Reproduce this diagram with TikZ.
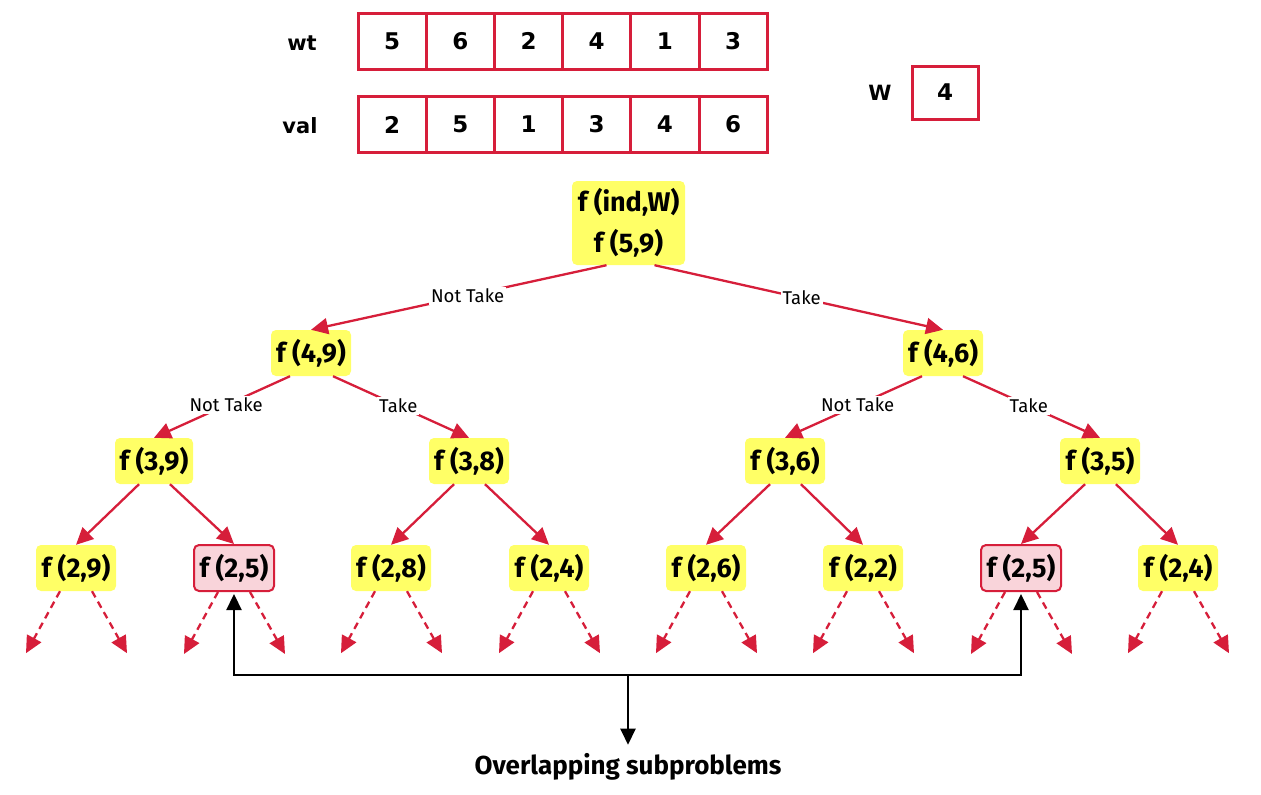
\documentclass[tikz,border=0pt]{standalone}
\usepackage{fontspec}
\setmainfont{Fira Sans}
\newfontfamily\dvs{DejaVu Sans}
\usetikzlibrary{arrows.meta,calc}
\definecolor{cred}{RGB}{214,30,58}
\definecolor{cyel}{RGB}{255,255,102}
\definecolor{cpink}{RGB}{249,212,218}
\tikzset{
  cell/.style={draw=cred,line width=3pt,minimum width=68.2pt,minimum height=56pt,inner sep=0pt,font=\dvs\bfseries\fontsize{23}{26}\selectfont},
  arrlbl/.style={font=\dvs\bfseries\fontsize{21}{24}\selectfont,inner sep=0pt},
  fnode/.style={fill=cyel,rounded corners=5pt,minimum width=80pt,minimum height=46pt,inner sep=0pt,font=\bfseries\fontsize{27}{30}\selectfont},
  dupnode/.style={fnode,fill=cpink,draw=cred,line width=2pt},
  edge/.style={draw=cred,line width=2.3pt,-{Triangle[length=17pt,width=16pt]}},
  dedge/.style={edge,dash pattern=on 7pt off 5pt},
  lbl/.style={fill=white,inner sep=2pt,font=\fontsize{18.5}{22}\selectfont},
  blk/.style={draw=black,line width=2.3pt},
  btip/.style={-{Triangle[length=16pt,width=15pt]}}
}
\begin{document}
\begin{tikzpicture}[x=1pt,y=-1pt]
\useasboundingbox (0,0) rectangle (1261,795);
% arrays
\node[arrlbl] (wtl) at (302,43) {wt};
\node[arrlbl] (vall) at (300,126) {val};
\foreach \v [count=\i] in {5,6,2,4,1,3}
  \node[cell] (wt\i) at ({358+68.2*(\i-0.5)},41) {\v};
\foreach \v [count=\i] in {2,5,1,3,4,6}
  \node[cell] (val\i) at ({358+68.2*(\i-0.5)},124.5) {\v};
\node[arrlbl] (Wl) at (880,93) {W};
\node[cell,minimum width=66pt,minimum height=53pt] (Wb) at (945,92.5) {4};
% tree
\node[fnode,minimum width=113pt,minimum height=84pt,align=center,font=\bfseries\fontsize{27}{41}\selectfont] (root) at (628.5,223) {f (ind,W)\\f (5,9)};
\node[fnode] (n49) at (311,353) {f (4,9)};
\node[fnode] (n46) at (943,353) {f (4,6)};
\node[fnode,minimum width=78pt] (n39) at (154,461) {f (3,9)};
\node[fnode] (n38) at (469,461) {f (3,8)};
\node[fnode] (n36) at (785,461) {f (3,6)};
\node[fnode] (n35) at (1100,461) {f (3,5)};
\node[fnode] (n29) at (76,568) {f (2,9)};
\node[dupnode] (n25a) at (234,568) {f (2,5)};
\node[fnode] (n28) at (391,568) {f (2,8)};
\node[fnode] (n24a) at (549,568) {f (2,4)};
\node[fnode] (n26) at (706,568) {f (2,6)};
\node[fnode] (n22) at (863,568) {f (2,2)};
\node[dupnode] (n25b) at (1021,568) {f (2,5)};
\node[fnode] (n24b) at (1178,568) {f (2,4)};
% edges
\draw[edge] ([xshift=-22pt]root.south) -- node[lbl,pos=0.47]{Not Take} (n49.north);
\draw[edge] ([xshift=26pt]root.south) -- node[lbl,pos=0.51]{Take} (n46.north);
\draw[edge] ([xshift=-21pt]n49.south) -- node[lbl,pos=0.47]{Not Take} (n39.north);
\draw[edge] ([xshift=22pt]n49.south) -- node[lbl,pos=0.48]{Take} (n38.north);
\draw[edge] ([xshift=-21pt]n46.south) -- node[lbl,pos=0.47]{Not Take} (n36.north);
\draw[edge] ([xshift=20pt]n46.south) -- node[lbl,pos=0.48]{Take} (n35.north);
\draw[edge] ([xshift=-15pt]n39.south) -- (n29.north);
\draw[edge] ([xshift=16pt]n39.south) -- (n25a.north);
\draw[edge] ([xshift=-15pt]n38.south) -- (n28.north);
\draw[edge] ([xshift=16pt]n38.south) -- (n24a.north);
\draw[edge] ([xshift=-15pt]n36.south) -- (n26.north);
\draw[edge] ([xshift=16pt]n36.south) -- (n22.north);
\draw[edge] ([xshift=-15pt]n35.south) -- (n25b.north);
\draw[edge] ([xshift=16pt]n35.south) -- (n24b.north);
% dashed
\foreach \n in {n29,n25a,n28,n24a,n26,n22,n25b,n24b}{
  \coordinate (\n L) at ($(\n.south)+(-50,62)$);
  \coordinate (\n R) at ($(\n.south)+(51,62)$);
  \draw[dedge] ([xshift=-16pt]\n.south) -- (\n L);
  \draw[dedge] ([xshift=16pt]\n.south) -- (\n R);
}
% overlapping
\coordinate (bus) at (628,675);
\node[font=\bfseries\fontsize{26}{30}\selectfont,inner sep=0pt,anchor=base] (ovl) at (628,774) {Overlapping subproblems};
\draw[blk,btip] (n25a.south |- bus) -- ([yshift=-2pt]n25a.south);
\draw[blk,btip] (n25b.south |- bus) -- ([yshift=-2pt]n25b.south);
\draw[blk,line cap=rect] (n25a.south |- bus) -- (n25b.south |- bus);
\draw[blk,btip] (bus) -- ($(ovl.north)+(0,-8)$);
\end{tikzpicture}
\end{document}
